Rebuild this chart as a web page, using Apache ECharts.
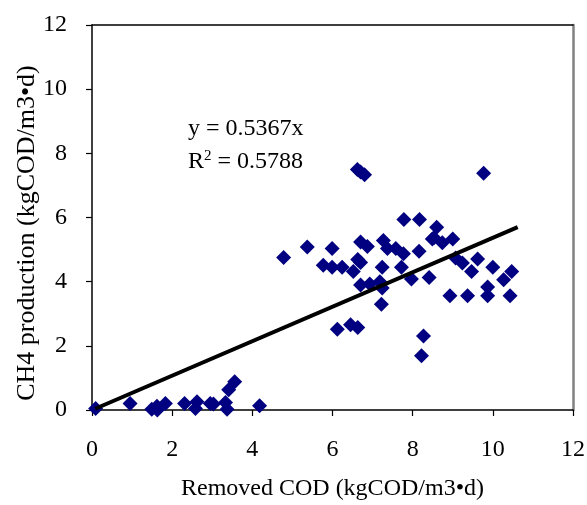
<!DOCTYPE html>
<html>
<head>
<meta charset="utf-8">
<script src="https://cdn.jsdelivr.net/npm/echarts@6/dist/echarts.min.js"></script>
<style>html,body{margin:0;padding:0;background:#fff}#c{width:587px;height:505px}</style>
</head>
<body>
<div id="c"></div>
<script>
var removedCOD = [0.09,0.95,1.49,1.62,1.63,1.83,2.31,2.58,2.62,2.95,3.03,3.33,3.37,3.41,3.56,4.18,
  4.78,5.37,5.99,5.77,5.99,6.24,6.52,6.63,6.70,6.70,6.87,7.27,7.37,7.58,7.77,8.16,8.53,8.60,
  7.24,7.72,7.97,8.41,6.70,6.93,7.18,7.24,7.22,6.12,6.45,6.63,8.27,8.22,
  6.62,6.70,6.80,7.78,8.17,9.77,8.49,8.74,9.00,9.07,9.24,9.62,9.47,10.00,10.47,10.27,
  9.87,8.93,9.37,9.87,10.43];
var ch4Production = [0.05,0.20,0.02,0.12,0.00,0.20,0.20,0.05,0.26,0.20,0.19,0.23,0.02,0.63,0.88,0.13,
  4.75,5.08,5.03,4.51,4.45,4.45,4.32,4.69,4.60,5.24,5.10,5.28,5.03,5.03,4.87,4.95,5.37,5.70,
  4.45,4.45,4.08,4.13,3.90,3.93,4.00,3.80,3.30,2.52,2.66,2.57,2.31,1.69,
  7.50,7.42,7.33,5.94,5.94,7.38,5.33,5.21,5.33,4.74,4.58,4.71,4.32,4.45,4.32,4.06,
  3.83,3.56,3.56,3.56,3.56];
var trendX = [0.08, 10.62];
var trendY = [0.04, 5.70];
var xTicks = [0,2,4,6,8,10,12];
var yTicks = [0,2,4,6,8,10,12];
var equationText = 'y = 0.5367x';
var r2Value = '0.5788';
var xTitle = 'Removed COD (kgCOD/m3\u2022d)';
var yTitle = 'CH4 production (kgCOD/m3\u2022d)';

var pts = removedCOD.map(function(x,i){return [x, ch4Production[i]];});
var trend = trendX.map(function(x,i){return [x, trendY[i]];});
var font = '"Liberation Serif","Times New Roman",serif';
var xMin = xTicks[0], xMax = xTicks[xTicks.length-1];
var yMin = yTicks[0], yMax = yTicks[yTicks.length-1];

var chart = echarts.init(document.getElementById('c'));
chart.setOption({
  animation:false,
  backgroundColor:'#fff',
  grid:{left:92,right:14,top:25,bottom:95,show:false,outerBoundsMode:'none',containLabel:false},
  xAxis:[{type:'value',min:xMin,max:xMax,interval:2,position:'bottom',
    axisLine:{show:true,onZero:false,lineStyle:{color:'#000',width:1.5}},
    axisTick:{show:true,inside:false,length:6,lineStyle:{color:'#000',width:1.2}},
    splitLine:{show:false},
    axisLabel:{margin:28,color:'#000',fontFamily:font,fontSize:24},
    name:xTitle,nameLocation:'middle',nameGap:67,
    nameTextStyle:{color:'#000',fontFamily:font,fontSize:24}},
   {type:'value',min:xMin,max:xMax,interval:2,position:'top',
    axisLine:{show:true,onZero:false,lineStyle:{color:'#000',width:1.5}},
    axisTick:{show:false},axisLabel:{show:false},splitLine:{show:false}}],
  yAxis:[{type:'value',min:yMin,max:yMax,interval:2,position:'left',
    axisLine:{show:true,onZero:false,lineStyle:{color:'#000',width:1.5}},
    axisTick:{show:true,inside:false,length:6,lineStyle:{color:'#000',width:1.2}},
    splitLine:{show:false},
    axisLabel:{margin:25,color:'#000',fontFamily:font,fontSize:24}},
   {type:'value',min:yMin,max:yMax,interval:2,position:'right',
    axisLine:{show:true,onZero:false,lineStyle:{color:'#808080',width:2.5}},
    axisTick:{show:false},axisLabel:{show:false},splitLine:{show:false}}],
  series:[
    {type:'scatter',data:pts,symbol:'diamond',symbolSize:[15,15],
     itemStyle:{color:'#000080',opacity:1},z:3},
    {type:'line',data:trend,symbol:'none',lineStyle:{color:'#000',width:4},z:4}
  ],
  graphic:[
    {type:'text',x:27,y:233,rotation:Math.PI/2,
     style:{text:yTitle,fontFamily:font,fontSize:26,fill:'#000',align:'center',verticalAlign:'middle'}},
    {type:'text',left:188,top:117,style:{text:equationText,fontFamily:font,fontSize:24,fill:'#000'}},
    {type:'text',left:188,top:149,style:{
      text:'R{sup|2} = '+r2Value,fontFamily:font,fontSize:24,fill:'#000',
      rich:{sup:{fontSize:15,verticalAlign:'top',padding:[0,0,10,0],fontFamily:font,fill:'#000'}}}}
  ]
});
</script>
</body>
</html>
